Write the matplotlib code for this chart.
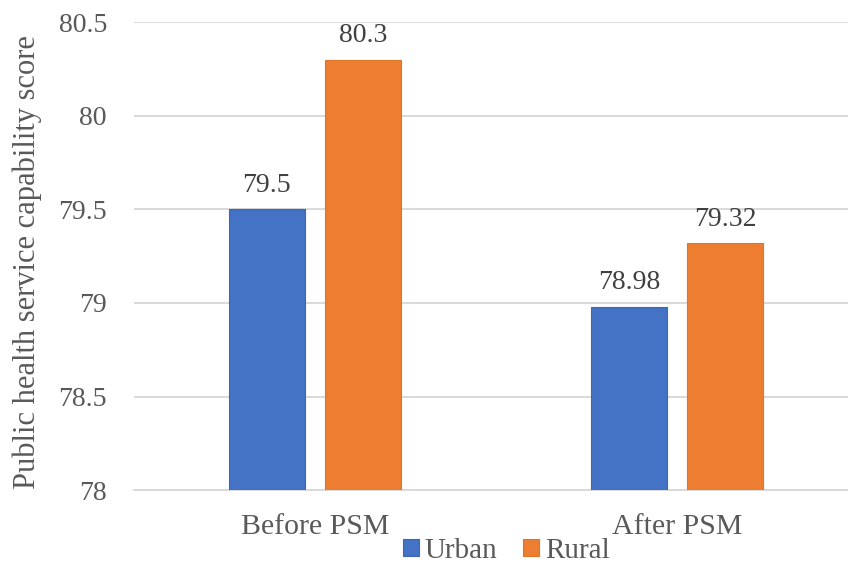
import matplotlib.pyplot as plt
import numpy as np

plt.rcParams['font.family'] = ['Liberation Serif', 'DejaVu Serif']

# data
categories = ['Before PSM', 'After PSM']
urban = [79.5, 78.98]
rural = [80.3, 79.32]
urban_labels = ['79.5', '78.98']
rural_labels = ['80.3', '79.32']

text_color = '#595959'
blue = '#4472C4'
orange = '#ED7D31'

fig = plt.figure(figsize=(8.48, 5.66), dpi=100)
ax = fig.add_axes([0.158, 0.134, 0.854, 0.827])

x = np.arange(len(categories))
w = 0.21
off = 0.1335
b1 = ax.bar(x - off, [v - 78 for v in urban], w, bottom=78, color=blue,
            edgecolor='#3F66B0', linewidth=0.8, label='Urban', zorder=3)
b2 = ax.bar(x + off, [v - 78 for v in rural], w, bottom=78, color=orange,
            edgecolor='#E07428', linewidth=0.8, label='Rural', zorder=3)

# value labels
for xi, v, t in zip(x - off, urban, urban_labels):
    ax.text(xi, v + 0.06, t, ha='center', va='bottom', fontsize=20, color='#404040')
for xi, v, t in zip(x + off, rural, rural_labels):
    ax.text(xi, v + 0.06, t, ha='center', va='bottom', fontsize=20, color='#404040')

ax.set_xlim(-0.5, 1.5)
ax.set_ylim(78, 80.5)
ax.set_yticks([78, 78.5, 79, 79.5, 80, 80.5])
ax.set_yticklabels(['78', '78.5', '79', '79.5', '80', '80.5'])
ax.set_xticks(x)
ax.set_xticklabels(categories)
ax.tick_params(axis='y', length=0, labelsize=20, colors=text_color, pad=19.5)
ax.tick_params(axis='x', length=0, labelsize=21.5, colors=text_color, pad=17)

ax.grid(axis='y', color='#D9D9D9', linewidth=1.4, zorder=0)
for s in ['top', 'right', 'left']:
    ax.spines[s].set_visible(False)
ax.spines['bottom'].set_color('#D9D9D9')
ax.spines['bottom'].set_linewidth(1.4)

ax.set_ylabel('Public health service capability score', fontsize=22,
              color=text_color)
ax.yaxis.set_label_coords(-0.127, 0.487)

fig.legend(handles=[b1, b2], labels=['Urban', 'Rural'], loc='center',
           bbox_to_anchor=(0.597, 0.027), ncol=2, frameon=False,
           fontsize=21, labelcolor=text_color, handlelength=0.55,
           handleheight=0.55, handletextpad=0.2, columnspacing=0.9)

plt.savefig('out.png', dpi=100)
